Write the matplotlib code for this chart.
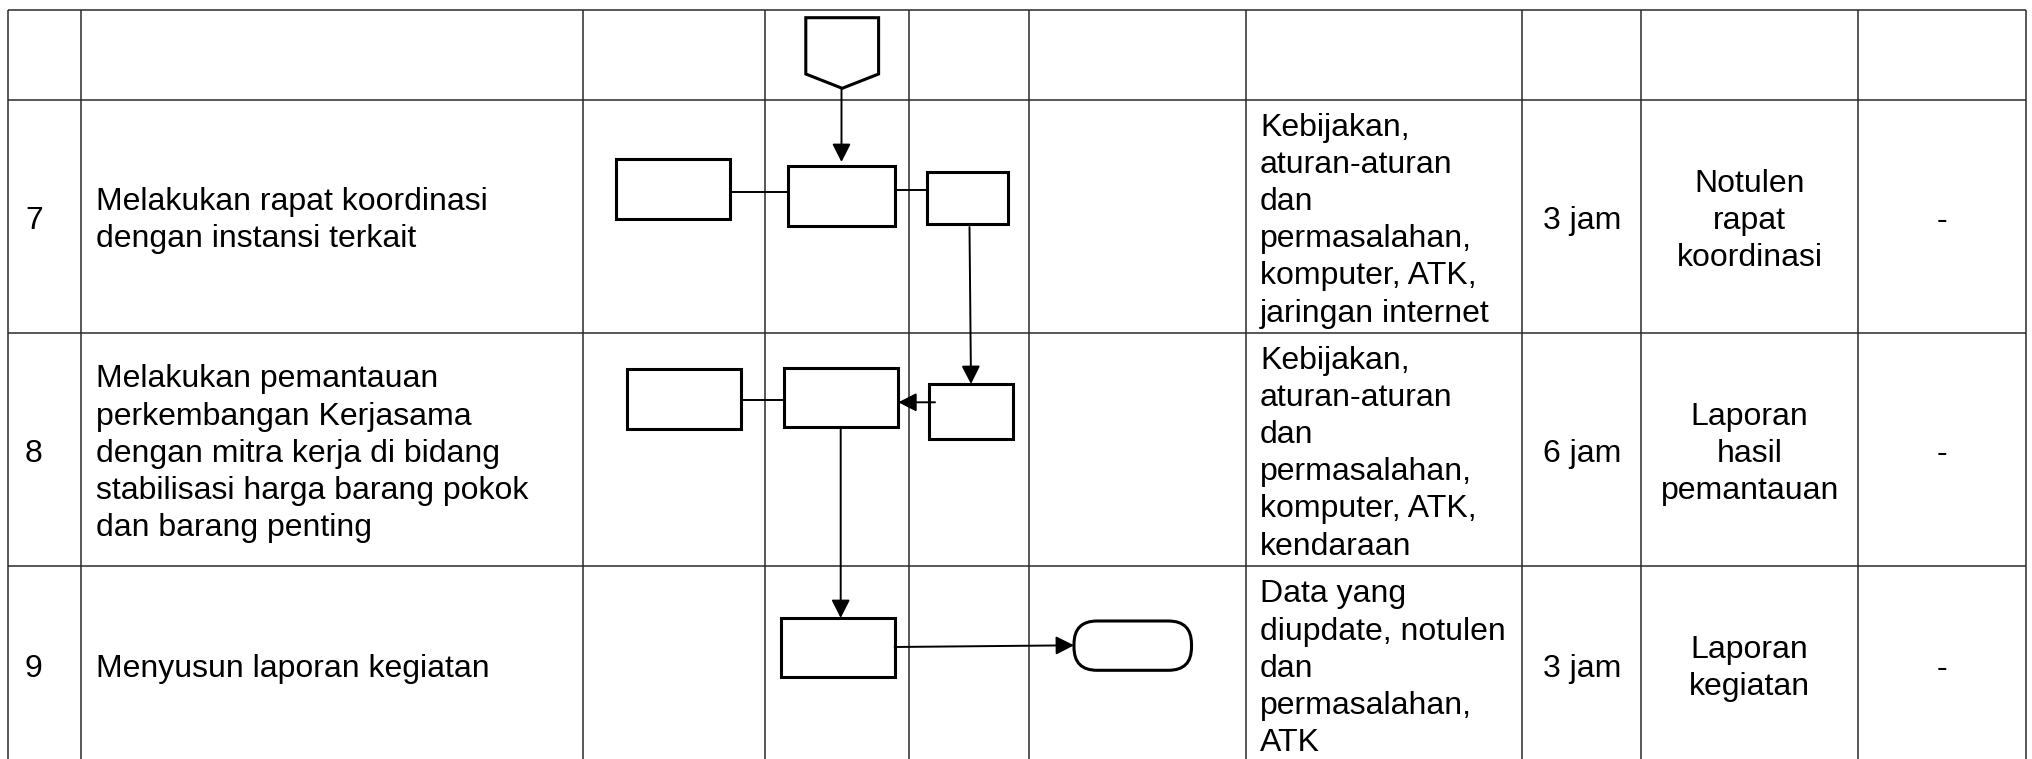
import matplotlib
matplotlib.use("Agg")
import matplotlib.pyplot as plt
from matplotlib.patches import Rectangle, Polygon, FancyBboxPatch, FancyArrowPatch

plt.rcParams['font.family'] = ['Liberation Sans', 'DejaVu Sans']

# ---- table content ----
row_numbers = ["", "7", "8", "9"]
descriptions = [
    "",
    "Melakukan rapat koordinasi\ndengan instansi terkait",
    "Melakukan pemantauan\nperkembangan Kerjasama\ndengan mitra kerja di bidang\nstabilisasi harga barang pokok\ndan barang penting",
    "Menyusun laporan kegiatan",
]
resources = [
    "",
    "Kebijakan,\naturan-aturan\ndan\npermasalahan,\nkomputer, ATK,\njaringan internet",
    "Kebijakan,\naturan-aturan\ndan\npermasalahan,\nkomputer, ATK,\nkendaraan",
    "Data yang\ndiupdate, notulen\ndan\npermasalahan,\nATK",
]
times = ["", "3 jam", "6 jam", "3 jam"]
outputs = ["", "Notulen\nrapat\nkoordinasi", "Laporan\nhasil\npemantauan", "Laporan\nkegiatan"]
remarks = ["", "-", "-", "-"]

# ---- layout (pixel grid) ----
col_edges = [8, 81, 583.5, 765.5, 909, 1029.5, 1246, 1522, 1641.5, 1858, 2026.5]
row_edges = [9.5, 99.5, 333, 565.5, 763]

# process boxes: (x0, y0, x1, y1)
boxes = [
    (615.6, 159.3, 730.0, 218.7),   # row 7 left
    (788.0, 166.0, 894.6, 226.0),   # row 7 centre
    (927.0, 171.7, 1007.6, 224.0),  # row 7 right
    (929.0, 384.0, 1013.0, 439.3),  # row 8 right
    (784.3, 367.7, 898.3, 426.7),   # row 8 centre
    (626.7, 369.3, 740.7, 428.7),   # row 8 left
    (780.8, 618.0, 894.6, 677.0),   # row 9 centre
]
connector = [(805.8, 17.7), (878.6, 17.7), (878.6, 74.0), (842.2, 88.3), (805.8, 74.0)]
terminator = (1074.0, 621.0, 1191.5, 670.3)

# plain lines (x0, y0, x1, y1)
plain_links = [
    (730.0, 192.0, 788.0, 192.0),
    (897.0, 190.3, 927.0, 190.3),
    (738.0, 400.3, 784.3, 400.3),
]
# arrows (x0, y0, x1, y1)
arrow_links = [
    (841.5, 89.0, 841.5, 162.0),
    (969.5, 227.0, 971.0, 384.0),
    (935.0, 402.3, 898.3, 402.3),
    (840.7, 429.3, 840.7, 618.0),
    (894.6, 647.0, 1074.0, 645.3),
]

W, H = 2033, 759
fig = plt.figure(figsize=(W / 100, H / 100), dpi=100)
ax = fig.add_axes([0, 0, 1, 1])
ax.set_xlim(0, W)
ax.set_ylim(H, 0)
ax.axis('off')

grid_kw = dict(color='#2a2a2a', lw=1.1, solid_capstyle='butt', zorder=1)
for x in col_edges:
    ax.plot([x, x], [row_edges[0], row_edges[-1]], **grid_kw)
for y in row_edges:
    ax.plot([col_edges[0], col_edges[-1]], [y, y], **grid_kw)

shape_lw = 2.2
for (x0, y0, x1, y1) in boxes:
    ax.add_patch(Rectangle((x0, y0), x1 - x0, y1 - y0, fill=True, fc='white',
                           ec='black', lw=shape_lw, zorder=3))
ax.add_patch(Polygon(connector, closed=True, fc='white', ec='black', lw=shape_lw, zorder=3))
tx0, ty0, tx1, ty1 = terminator
ax.add_patch(FancyBboxPatch((tx0, ty0), tx1 - tx0, ty1 - ty0,
                            boxstyle="round,pad=0,rounding_size=23",
                            fc='white', ec='black', lw=shape_lw, zorder=3))

for (x0, y0, x1, y1) in plain_links:
    ax.plot([x0, x1], [y0, y1], color='black', lw=1.4, zorder=2)
for (x0, y0, x1, y1) in arrow_links:
    ax.add_patch(FancyArrowPatch((x0, y0), (x1, y1),
                                 arrowstyle='-|>,head_length=0.55,head_width=0.28',
                                 mutation_scale=20, color='black', lw=1.4,
                                 shrinkA=0, shrinkB=0, zorder=4))

fs = 23
ls = 1.31
dy = 4.5
for i in range(len(row_numbers)):
    yc = (row_edges[i] + row_edges[i + 1]) / 2 + dy
    if row_numbers[i]:
        ax.text(25, yc, row_numbers[i], fontsize=fs, ha='left', va='center')
    if descriptions[i]:
        ax.text(96, yc, descriptions[i], fontsize=fs, ha='left', va='center',
                linespacing=ls, multialignment='left')
    if resources[i]:
        ax.text(1260, yc, resources[i], fontsize=fs, ha='left', va='center',
                linespacing=ls, multialignment='left')
    if times[i]:
        ax.text((col_edges[7] + col_edges[8]) / 2, yc, times[i], fontsize=fs,
                ha='center', va='center')
    if outputs[i]:
        ax.text((col_edges[8] + col_edges[9]) / 2, yc, outputs[i], fontsize=fs,
                ha='center', va='center', linespacing=ls, multialignment='center')
    if remarks[i]:
        ax.text((col_edges[9] + col_edges[10]) / 2, yc, remarks[i], fontsize=fs,
                ha='center', va='center')

fig.savefig("out.png", dpi=100, facecolor='white')
